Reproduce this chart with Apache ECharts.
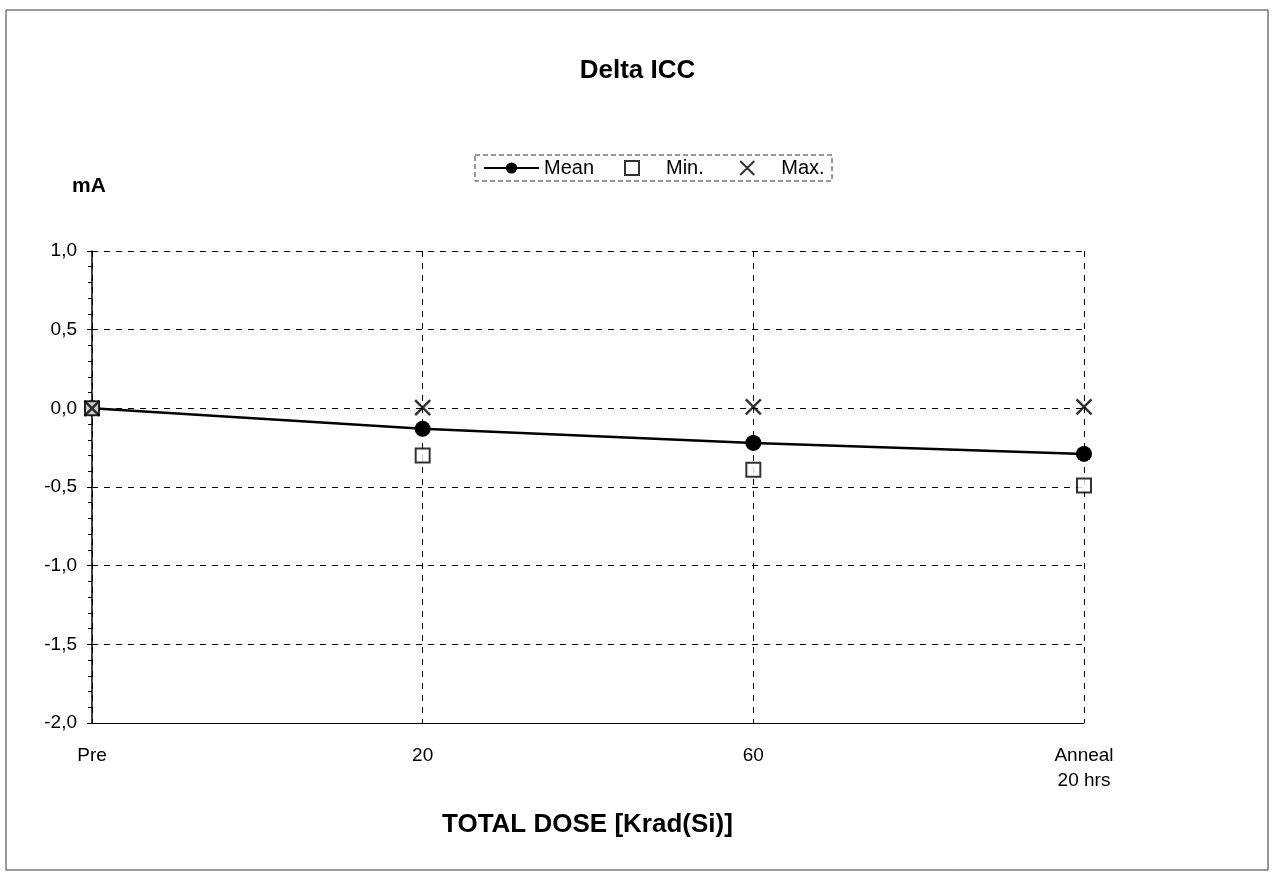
<!DOCTYPE html>
<html>
<head>
<meta charset="utf-8">
<script src="https://cdn.jsdelivr.net/npm/echarts@6/dist/echarts.min.js"></script>
<style>
html,body{margin:0;padding:0;background:#fff;}
#c{width:1275px;height:875px;}
</style>
</head>
<body>
<div id="c"></div>
<script>
var categories = ['Pre', '20', '60', 'Anneal\n20 hrs'];
var meanValues = [0.0, -0.13, -0.22, -0.29];
var minValues = [0.0, -0.30, -0.39, -0.49];
var maxValues = [0.0, 0.005, 0.01, 0.01];
var yTicks = { min: -2.0, max: 1.0, interval: 0.5 };

var font = '"Liberation Sans", Arial, sans-serif';
var chart = echarts.init(document.getElementById('c'));
chart.setOption({
  animation: false,
  backgroundColor: '#fff',
  textStyle: { fontFamily: font, color: '#000' },
  title: {
    text: 'Delta ICC', left: 'center', top: 53,
    textStyle: { fontFamily: font, fontSize: 26, fontWeight: 'bold', color: '#000' }
  },
  graphic: [
    { type: 'rect', shape: { x: 6, y: 10, width: 1262, height: 860 },
      style: { fill: 'none', stroke: '#333', lineWidth: 1 } },
    { type: 'rect', shape: { x: 475, y: 155, width: 357, height: 26 },
      style: { fill: 'none', stroke: '#333', lineWidth: 1, lineDash: [5, 3] } },
    { type: 'text', left: 72, top: 176,
      style: { text: 'mA', font: 'bold 21px ' + font, fill: '#000' } },
    { type: 'text', left: 442, top: 812,
      style: { text: 'TOTAL DOSE [Krad(Si)]', font: 'bold 26px ' + font, fill: '#000' } }
  ],
  legend: [
    {
      left: 483, top: 158, padding: 0,
      itemWidth: 55, itemHeight: 14,
      textStyle: { fontFamily: font, fontSize: 20, color: '#000' },
      data: [{ name: 'Mean' }]
    },
    {
      left: 624, top: 158, padding: 0,
      itemGap: 34, itemWidth: 14, itemHeight: 14,
      textStyle: { fontFamily: font, fontSize: 20, color: '#000',
        rich: { a: { fontFamily: font, fontSize: 20, color: '#000', padding: [0, 0, 0, 22] } } },
      formatter: function (name) { return '{a|' + name + '}'; },
      data: [
        { name: 'Min.', icon: 'path://M0,0L10,0L10,10L0,10Z' },
        { name: 'Max.', icon: 'path://M0,0L10,10M10,0L0,10' }
      ]
    }
  ],
  grid: { left: 92, right: 191, top: 251, bottom: 152 },
  xAxis: {
    type: 'category', data: categories, boundaryGap: false,
    axisLine: { onZero: false, lineStyle: { color: '#000', width: 1 } },
    axisTick: { show: false },
    axisLabel: { fontFamily: font, fontSize: 19, color: '#000', margin: 20, lineHeight: 25 },
    splitLine: { show: true, lineStyle: { color: '#000', type: [6, 6], width: 1 } }
  },
  yAxis: {
    type: 'value', min: yTicks.min, max: yTicks.max, interval: yTicks.interval,
    axisLine: { show: true, onZero: false, lineStyle: { color: '#000', width: 1.5 } },
    axisTick: { show: true, inside: false, length: 5, lineStyle: { color: '#000' } },
    minorTick: { show: true, splitNumber: 5, length: 4, lineStyle: { color: '#000' } },
    axisLabel: {
      fontFamily: font, fontSize: 19, color: '#000', margin: 15,
      formatter: function (v) { return v.toFixed(1).replace('.', ','); }
    },
    splitLine: { show: true, lineStyle: { color: '#000', type: [6, 6], width: 1 } }
  },
  series: [
    { name: 'Mean', type: 'line', data: meanValues,
      symbol: 'circle', symbolSize: 16, showAllSymbol: true,
      lineStyle: { color: '#000', width: 2.5 },
      itemStyle: { color: '#000' }, z: 3 },
    { name: 'Min.', type: 'scatter', data: minValues,
      symbol: 'rect', symbolSize: 14,
      itemStyle: { color: '#fff', borderColor: '#000', borderWidth: 2 }, z: 4 },
    { name: 'Max.', type: 'scatter', data: maxValues,
      symbol: 'path://M0,0L10,10M10,0L0,10', symbolSize: 15,
      itemStyle: { color: 'none', borderColor: '#000', borderWidth: 2.5 }, z: 5 }
  ]
});
</script>
</body>
</html>
